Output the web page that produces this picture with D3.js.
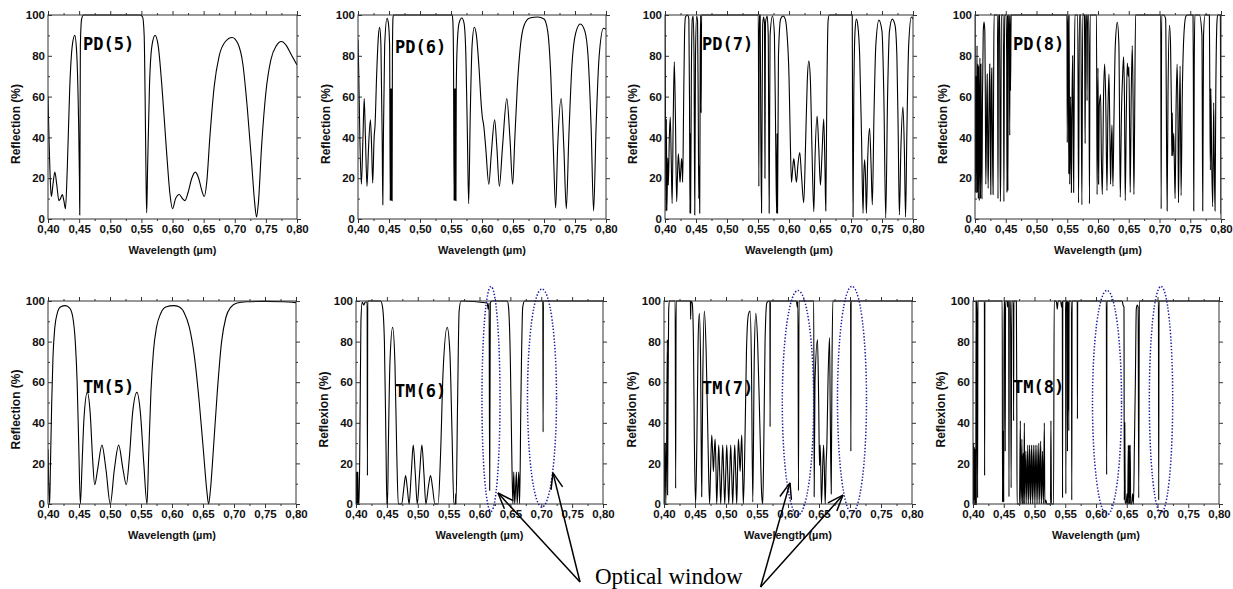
<!DOCTYPE html>
<html>
<head>
<meta charset="utf-8">
<script src="https://cdn.jsdelivr.net/npm/d3@7"></script>
<style>
  body { margin: 0; background: #fff; }
  svg { display: block; }
</style>
</head>
<body>
<script>
/*
* Reflection spectra of the PD(n) and TM(n) stacks, wavelength in µm, reflection in %.
*/

// PD(5) .. PD(8)
var pd5 = [[0.400,60],[0.402,35],[0.4045,14],[0.4055,11],[0.408,17],[0.411,23],[0.414,17],[0.4175,9],[0.420,10],[0.423,12],[0.4255,9],[0.428,5],[0.431,25],[0.435,65],[0.439,85],[0.443,90],[0.446,82],[0.449,50],[0.4505,20],[0.451,2],[0.4515,40],[0.452,85],[0.454,98],[0.457,100],[0.548,100],[0.552,99],[0.5545,90],[0.556,60],[0.5575,20],[0.5585,3],[0.560,25],[0.563,65],[0.567,85],[0.572,90],[0.577,85],[0.583,65],[0.590,35],[0.596,12],[0.600,5],[0.605,10],[0.611,12],[0.616,10],[0.620,9],[0.625,13],[0.631,20],[0.6366,23],[0.642,20],[0.647,14],[0.651,11],[0.655,18],[0.660,40],[0.667,65],[0.675,80],[0.685,87],[0.6957,89],[0.705,86],[0.713,76],[0.720,55],[0.727,28],[0.732,8],[0.735,1],[0.738,8],[0.743,35],[0.750,62],[0.758,78],[0.767,85],[0.7747,87],[0.783,85],[0.790,81],[0.800,75.5]];

var pd6 = [[0.400,88],[0.401,75],[0.403,40],[0.4054,17],[0.408,40],[0.410,59],[0.412,40],[0.4145,16],[0.417,35],[0.420,48.6],[0.422,35],[0.4237,17.6],[0.426,40],[0.4275,46],[0.430,70],[0.433,90],[0.435,94],[0.437,85],[0.439,40],[0.440,7],[0.441,40],[0.443,85],[0.4468,98.4],[0.449,96],[0.451,85],[0.452,9],[0.4525,64],[0.453,9],[0.4535,64],[0.454,9],[0.4545,64],[0.455,9],[0.4555,80],[0.4565,99],[0.458,100],[0.552,100],[0.553,97],[0.554,80],[0.555,9],[0.5555,64],[0.556,9],[0.5565,64],[0.557,9],[0.5575,64],[0.558,9],[0.5585,64],[0.560,85],[0.563,96],[0.5675,98.5],[0.571,96],[0.574,80],[0.5765,40],[0.5785,7.5],[0.581,50],[0.584,85],[0.5876,94],[0.591,90],[0.595,75],[0.599,55],[0.6005,50],[0.6027,46],[0.606,35],[0.611,17],[0.615,32],[0.6204,48.6],[0.624,35],[0.628,16],[0.633,35],[0.640,59],[0.645,40],[0.6495,17],[0.653,40],[0.657,65],[0.662,85],[0.668,95],[0.677,98.5],[0.690,99],[0.700,98],[0.706,92],[0.711,70],[0.715,35],[0.7188,5.4],[0.722,35],[0.7277,59],[0.732,35],[0.736,5],[0.740,40],[0.745,75],[0.751,91],[0.7586,95.6],[0.766,92],[0.771,80],[0.776,45],[0.780,4],[0.784,45],[0.789,80],[0.796,93.5],[0.800,93]];

var pd7 = [[0.400,100],[0.4008,50],[0.4015,4],[0.4022,49],[0.403,4],[0.4045,30],[0.4054,16.6],[0.407,40],[0.4085,50],[0.410,30],[0.4115,7.6],[0.4133,50],[0.415,77],[0.4168,50],[0.4188,8.5],[0.420,20],[0.4215,32],[0.423,25],[0.4242,18],[0.4255,24],[0.4268,29.6],[0.4278,24],[0.4285,18],[0.430,55],[0.4315,90],[0.433,99],[0.4365,100],[0.4385,98],[0.4395,60],[0.4403,2.8],[0.4408,42],[0.4413,2.8],[0.4425,70],[0.444,98],[0.4455,99.5],[0.4468,80],[0.448,2],[0.4492,80],[0.451,99.5],[0.4525,97],[0.4538,45],[0.4545,10],[0.4553,26],[0.456,2.8],[0.4568,80],[0.4575,100],[0.4583,52],[0.459,100],[0.5505,100],[0.5514,16],[0.552,100],[0.5535,100],[0.5545,45],[0.5557,3],[0.5565,45],[0.5575,95],[0.559,99],[0.5605,96],[0.5612,20],[0.562,96],[0.5648,99.5],[0.5665,90],[0.568,2.8],[0.5695,90],[0.5734,99.5],[0.5765,90],[0.5785,40],[0.580,2.8],[0.5808,42],[0.5815,2.8],[0.583,80],[0.5865,98],[0.5905,99.5],[0.594,98],[0.597,90],[0.600,70],[0.602,40],[0.604,18],[0.606,25],[0.6077,29.6],[0.6095,25],[0.612,18],[0.6145,27],[0.6174,32.6],[0.620,22],[0.6238,8],[0.627,40],[0.6295,68],[0.632,77.4],[0.6345,68],[0.637,35],[0.640,3.6],[0.642,30],[0.6453,50.5],[0.648,35],[0.6507,16.6],[0.653,30],[0.656,49],[0.658,25],[0.6593,4],[0.661,60],[0.663,97],[0.665,100],[0.702,100],[0.7025,50],[0.7033,1],[0.7045,60],[0.7065,92],[0.7087,98],[0.711,95],[0.714,80],[0.717,40],[0.7194,2.8],[0.7205,20],[0.722,29],[0.7235,20],[0.7248,2.8],[0.727,30],[0.730,44.5],[0.7325,25],[0.7344,7],[0.737,50],[0.740,85],[0.745,97.5],[0.750,92],[0.753,60],[0.756,0.5],[0.759,60],[0.762,92],[0.7666,98],[0.771,95],[0.774,80],[0.776,45],[0.778,2],[0.7805,35],[0.7838,55],[0.786,35],[0.788,1],[0.790,40],[0.793,85],[0.7973,99],[0.800,98]];

var pd8 = [[0.400,100],[0.4005,40],[0.401,13],[0.4015,70],[0.402,13],[0.4027,50],[0.4033,85],[0.404,13],[0.4047,76],[0.4053,10],[0.406,75],[0.407,9],[0.408,79],[0.409,10],[0.4096,76],[0.4104,45],[0.4112,10],[0.4122,60],[0.4134,92],[0.4147,96.5],[0.416,92],[0.4168,60],[0.4176,17],[0.4187,46],[0.4198,71],[0.4206,40],[0.4214,15],[0.4226,50],[0.424,76],[0.4248,40],[0.4257,12],[0.4265,62],[0.4273,74],[0.4283,40],[0.4294,12],[0.4302,60],[0.431,100],[0.4365,100],[0.4374,10],[0.4382,100],[0.4398,100],[0.4405,59],[0.4412,8.5],[0.442,28],[0.4428,100],[0.446,100],[0.447,8.5],[0.448,100],[0.4505,100],[0.4515,80],[0.452,13],[0.4528,100],[0.4535,14],[0.4543,100],[0.4555,100],[0.4565,41],[0.457,100],[0.4578,63],[0.4588,100],[0.5495,100],[0.550,37.5],[0.5507,100],[0.5515,100],[0.5525,22],[0.553,100],[0.554,17],[0.5555,60],[0.5567,13],[0.5578,60],[0.5588,80],[0.5596,50],[0.5604,13],[0.5615,70],[0.5625,100],[0.567,100],[0.5684,8],[0.5698,100],[0.572,100],[0.5738,7],[0.5752,100],[0.578,100],[0.5787,59],[0.5791,37],[0.5798,100],[0.5815,100],[0.5822,58],[0.583,100],[0.585,100],[0.5861,7.5],[0.5872,100],[0.5975,100],[0.5985,12],[0.600,74],[0.601,17],[0.602,55],[0.6043,61],[0.6055,30],[0.607,12],[0.609,60],[0.6108,76],[0.6125,60],[0.6146,14],[0.616,50],[0.6178,71],[0.619,50],[0.6205,17],[0.6215,35],[0.6227,46],[0.6235,30],[0.6243,16],[0.626,50],[0.6281,85],[0.6314,96.4],[0.634,85],[0.6362,10.7],[0.6372,30],[0.6378,45],[0.640,70],[0.6416,79.5],[0.643,60],[0.6443,9],[0.646,50],[0.6476,76.5],[0.6492,70],[0.6503,74.6],[0.6515,40],[0.6524,13],[0.654,60],[0.6557,85],[0.657,60],[0.6584,12],[0.6595,46],[0.6611,100],[0.702,100],[0.7027,5],[0.7035,100],[0.707,100],[0.710,98],[0.7124,4],[0.7138,60],[0.7162,95],[0.718,85],[0.7195,52],[0.720,31],[0.7208,52],[0.7216,31],[0.7232,42],[0.7243,25],[0.7254,10],[0.727,55],[0.7286,76],[0.730,50],[0.7308,8],[0.732,40],[0.7335,75],[0.7351,11.5],[0.737,60],[0.740,92],[0.743,99.5],[0.746,100],[0.7545,100],[0.755,74],[0.7557,4],[0.7565,74],[0.7575,100],[0.765,100],[0.769,90],[0.7703,4],[0.7716,90],[0.774,100],[0.7811,100],[0.7818,64],[0.7827,24],[0.7835,64],[0.7848,30],[0.7865,6],[0.7881,57],[0.789,30],[0.7903,4],[0.7915,60],[0.7935,97],[0.7946,100],[0.799,100],[0.800,2.5]];

// TM(5) .. TM(8)
var tm5 = [[0.400,27],[0.401,12],[0.4027,0],[0.404,20],[0.406,50],[0.408,72],[0.411,87],[0.415,94],[0.420,97],[0.428,97.7],[0.435,96.5],[0.440,92],[0.444,80],[0.447,60],[0.4495,30],[0.4522,0],[0.455,20],[0.458,42],[0.4634,55],[0.468,45],[0.472,22],[0.4753,9.5],[0.480,17],[0.487,29],[0.4935,17],[0.5005,0],[0.507,17],[0.514,29],[0.521,17],[0.5263,9.5],[0.531,22],[0.5365,45],[0.5435,55],[0.549,45],[0.5545,20],[0.5597,0],[0.5625,25],[0.566,55],[0.570,75],[0.575,87],[0.582,94],[0.590,97],[0.6027,97.7],[0.612,97],[0.620,94],[0.628,87],[0.636,73],[0.644,50],[0.651,25],[0.656,7],[0.659,0],[0.662,7],[0.667,28],[0.673,55],[0.680,80],[0.687,92],[0.695,97],[0.705,99],[0.720,99.6],[0.750,99.8],[0.780,99.6],[0.800,99.2]];

var tm6 = [[0.400,0],[0.4005,15.8],[0.401,0],[0.402,15.8],[0.4025,0],[0.403,15.8],[0.404,0],[0.405,0],[0.4065,40],[0.408,90],[0.410,99.5],[0.4125,98],[0.415,99.5],[0.418,99.5],[0.4185,14],[0.419,100],[0.440,100],[0.443,97],[0.446,80],[0.4485,30],[0.450,0],[0.4505,5],[0.451,0],[0.4525,30],[0.455,70],[0.4593,87],[0.463,70],[0.466,25],[0.4685,0],[0.474,0],[0.4775,8],[0.4803,14],[0.483,8],[0.486,0],[0.4895,15],[0.4927,29],[0.496,15],[0.4992,0],[0.503,15],[0.5067,29],[0.510,15],[0.5132,0],[0.517,8],[0.5207,14],[0.524,8],[0.5278,0],[0.533,0],[0.537,25],[0.541,65],[0.5477,87],[0.552,75],[0.5555,35],[0.5585,0],[0.561,0],[0.5615,5],[0.562,0],[0.5645,50],[0.567,95],[0.570,100],[0.6125,99],[0.614,96],[0.6155,99],[0.6165,6.7],[0.6175,99],[0.620,100],[0.645,100],[0.647,97],[0.650,70],[0.652,30],[0.654,0],[0.6555,15.8],[0.657,0],[0.6598,15.8],[0.661,0],[0.6636,15.8],[0.665,0],[0.667,50],[0.670,97],[0.673,100],[0.7025,100],[0.703,35.5],[0.7035,100],[0.800,100]];

var tm7 = [[0.400,28],[0.4005,0],[0.401,30],[0.4016,19],[0.4022,30],[0.4028,0],[0.404,20],[0.4054,81],[0.4058,4.4],[0.4065,50],[0.4075,95],[0.4086,100],[0.418,100],[0.4188,7.7],[0.4196,100],[0.4425,100],[0.443,91],[0.4435,100],[0.4455,99],[0.4475,80],[0.449,30],[0.451,0],[0.453,30],[0.455,80],[0.457,94],[0.459,70],[0.4608,3.6],[0.4625,60],[0.4651,95],[0.468,75],[0.471,30],[0.4735,0],[0.475,15],[0.477,34],[0.4785,25],[0.4797,16],[0.481,25],[0.4824,32],[0.4838,18],[0.485,0],[0.4867,15],[0.4883,29],[0.4899,15],[0.4915,0],[0.4931,15],[0.4947,29],[0.4963,15],[0.498,0],[0.4996,15],[0.5012,29],[0.5028,15],[0.5044,0],[0.506,15],[0.5076,29],[0.5092,15],[0.5108,0],[0.5124,15],[0.5141,29],[0.5157,15],[0.5173,0],[0.5187,18],[0.520,32],[0.5214,25],[0.5227,16],[0.524,25],[0.5254,34],[0.5268,15],[0.528,0],[0.5305,30],[0.533,75],[0.536,93],[0.5389,95],[0.541,70],[0.5432,1],[0.5455,70],[0.548,94],[0.551,80],[0.5545,40],[0.5575,5],[0.5593,0],[0.561,30],[0.563,80],[0.5658,99],[0.569,100],[0.5708,100],[0.5711,38],[0.5716,100],[0.6135,100],[0.615,97],[0.616,100],[0.6169,6.6],[0.6178,100],[0.6415,100],[0.6422,3.6],[0.6435,60],[0.6476,81],[0.6495,50],[0.6508,19],[0.6518,29],[0.6528,19],[0.654,0],[0.6573,29],[0.6585,19],[0.660,0],[0.6615,20],[0.6627,29],[0.6645,60],[0.667,82],[0.668,50],[0.6697,5],[0.671,70],[0.6723,100],[0.701,100],[0.7014,26],[0.7018,100],[0.800,100]];

var tm8 = [[0.400,29],[0.4005,0],[0.401,30],[0.4016,2],[0.4022,28],[0.4028,0],[0.4033,27],[0.4038,0],[0.4045,5],[0.405,100],[0.4054,0],[0.406,100],[0.4068,100],[0.4075,3],[0.408,100],[0.4185,100],[0.4189,14],[0.4193,100],[0.4475,100],[0.448,1],[0.4485,36],[0.449,1],[0.4495,36],[0.450,1],[0.4505,100],[0.4515,100],[0.452,86],[0.4524,26],[0.453,100],[0.4555,100],[0.4562,97],[0.457,100],[0.458,100],[0.4585,3.6],[0.459,100],[0.461,100],[0.462,8],[0.463,100],[0.4655,100],[0.466,41],[0.4665,100],[0.4705,100],[0.4712,50],[0.4717,0],[0.4755,0],[0.477,41],[0.4776,0],[0.4782,3],[0.4795,32],[0.4803,0],[0.481,20],[0.4818,25],[0.4825,0],[0.4835,40],[0.4843,0],[0.486,26],[0.4875,0],[0.489,29],[0.4905,0],[0.492,29],[0.4935,0],[0.495,29],[0.4965,0],[0.498,29],[0.4995,0],[0.501,29],[0.5025,0],[0.504,29],[0.5055,0],[0.507,30],[0.5085,0],[0.510,31],[0.5115,0],[0.513,26],[0.5145,0],[0.516,40],[0.5168,0],[0.5185,2],[0.520,0],[0.526,0],[0.5267,41],[0.5275,0],[0.531,0],[0.532,100],[0.5348,100],[0.536,99],[0.537,96],[0.5385,100],[0.5425,100],[0.544,97],[0.5452,100],[0.5456,3],[0.546,100],[0.5505,100],[0.551,5],[0.5515,100],[0.5532,100],[0.5536,26],[0.554,100],[0.5545,46],[0.555,100],[0.5558,36],[0.5563,100],[0.560,100],[0.5606,2],[0.5612,100],[0.5695,100],[0.5698,42],[0.5702,100],[0.6168,100],[0.6173,14.5],[0.6178,100],[0.6425,100],[0.644,98],[0.6455,97],[0.646,2],[0.6468,40],[0.6475,1],[0.649,0],[0.6505,5],[0.6515,0],[0.6525,29],[0.6532,0],[0.654,29],[0.6548,0],[0.6556,29],[0.6564,0],[0.658,0],[0.6595,5],[0.661,0],[0.6625,30],[0.664,60],[0.6655,96],[0.667,98],[0.6685,97],[0.6695,3],[0.6705,100],[0.7015,100],[0.702,2],[0.7025,100],[0.800,100]];

var panelData = [pd5, pd6, pd7, pd8, tm5, tm6, tm7, tm8];
var panelNames = ["PD(5)", "PD(6)", "PD(7)", "PD(8)", "TM(5)", "TM(6)", "TM(7)", "TM(8)"];
var yTitles = ["Reflection (%)", "Reflection (%)", "Reflection (%)", "Reflection (%)",
               "Reflection (%)", "Reflexion (%)", "Reflexion (%)", "Reflexion (%)"];
var xTitle = "Wavelength (\u00b5m)";

// axis ticks
var xTicks = [0.40, 0.45, 0.50, 0.55, 0.60, 0.65, 0.70, 0.75, 0.80];
var xMinor = [0.425, 0.475, 0.525, 0.575, 0.625, 0.675, 0.725, 0.775];
var yTicks = [0, 20, 40, 60, 80, 100];
var yMinor = [10, 30, 50, 70, 90];

// optical windows marked on the TM panels: panel, centre (µm, %), half-width (µm), half-height (%)
var windows = [
	{panel: 5, wl: 0.6186, r: 51.7, dw: 0.0146, dr: 55.4},
	{panel: 5, wl: 0.7012, r: 52.2, dw: 0.0235, dr: 53.7},
	{panel: 6, wl: 0.6161, r: 49.9, dw: 0.0253, dr: 55.3},
	{panel: 6, wl: 0.7032, r: 51.4, dw: 0.0234, dr: 55.8},
	{panel: 7, wl: 0.6179, r: 49.9, dw: 0.0236, dr: 55.3},
	{panel: 7, wl: 0.7057, r: 51.4, dw: 0.0190, dr: 55.8}
];
var windowLabel = "Optical window";

// where the arrows point: panel, wavelength, reflection, which tail
var arrowTips = [
	{panel: 5, wl: 0.630, r: 5.4, tail: 0},
	{panel: 5, wl: 0.719, r: 15.3, tail: 0},
	{panel: 6, wl: 0.6032, r: 10.4, tail: 1},
	{panel: 6, wl: 0.6887, r: 4.4, tail: 1}
];

// layout of the eight plot areas
var layout = [
	{left: 48,  top: 15,  width: 249, height: 204, nx: 35, ny: 35},
	{left: 358, top: 15,  width: 248, height: 204, nx: 37, ny: 38},
	{left: 665, top: 15,  width: 248, height: 204, nx: 37, ny: 35},
	{left: 975, top: 15,  width: 246, height: 204, nx: 38, ny: 35},
	{left: 48,  top: 301, width: 248, height: 203, nx: 35, ny: 92},
	{left: 356, top: 301, width: 247, height: 203, nx: 39, ny: 96},
	{left: 664, top: 301, width: 248, height: 203, nx: 38, ny: 93},
	{left: 973, top: 301, width: 246, height: 203, nx: 40, ny: 92}
];

var sans = "'Liberation Sans', Arial, sans-serif";
var scales = [];

var svg = d3.select("body")
	.append("svg")
	.attr("width", 1233)
	.attr("height", 589);

/*
* Draws one panel: frame, ticks, curve, name and axis titles.
*/
function drawPanel(data, i) {
	var box = layout[i];
	var w = box.width, h = box.height;

	var x = d3.scaleLinear().domain([0.40, 0.80]).range([0, w]);
	var y = d3.scaleLinear().domain([0, 100]).range([h, 0]);
	scales.push({x: x, y: y, box: box});

	var g = svg.append("g")
		.attr("transform", "translate(" + box.left + "," + box.top + ")");

	var fmt = function(d) { return d3.format(".2f")(d).replace(".", ","); };

	// bottom axis with labels, outward ticks
	g.append("g")
		.attr("transform", "translate(0," + h + ")")
		.call(d3.axisBottom(x).tickValues(xTicks).tickSize(4).tickPadding(2).tickFormat(fmt));
	g.append("g")
		.attr("transform", "translate(0," + h + ")")
		.call(d3.axisBottom(x).tickValues(xMinor).tickSize(2).tickFormat(""));

	// top axis, ticks only
	g.append("g").call(d3.axisTop(x).tickValues(xTicks).tickSize(4).tickFormat(""));
	g.append("g").call(d3.axisTop(x).tickValues(xMinor).tickSize(2).tickFormat(""));

	// left axis with labels, inward ticks
	g.append("g")
		.call(d3.axisLeft(y).tickValues(yTicks).tickSize(-4).tickPadding(3));
	g.append("g")
		.call(d3.axisLeft(y).tickValues(yMinor).tickSize(-2).tickFormat(""));

	// right axis, ticks only
	g.append("g").attr("transform", "translate(" + w + ",0)")
		.call(d3.axisRight(y).tickValues(yTicks).tickSize(4).tickFormat(""));
	g.append("g").attr("transform", "translate(" + w + ",0)")
		.call(d3.axisRight(y).tickValues(yMinor).tickSize(2).tickFormat(""));

	g.selectAll(".domain").remove();
	g.selectAll(".tick line").attr("stroke", "#333");
	g.selectAll(".tick text")
		.attr("fill", "#111")
		.style("font-family", sans)
		.style("font-weight", "bold")
		.style("font-size", "11.5px");

	// clip the curve to the plot area
	g.append("clipPath").attr("id", "clip" + i)
		.append("rect").attr("x", 0).attr("y", -1).attr("width", w).attr("height", h + 2);

	var line = d3.line()
		.x(function(d) { return x(d[0]); })
		.y(function(d) { return y(d[1]); })
		.curve(d3.curveMonotoneX);

	g.append("path")
		.datum(data)
		.attr("clip-path", "url(#clip" + i + ")")
		.attr("d", line)
		.attr("fill", "none")
		.attr("stroke", "#000")
		.attr("stroke-width", 1.1);

	// frame
	g.append("rect")
		.attr("width", w)
		.attr("height", h)
		.attr("fill", "none")
		.attr("stroke", "#333")
		.attr("stroke-width", 1);

	// panel name
	g.append("text")
		.attr("x", box.nx)
		.attr("y", box.ny)
		.text(panelNames[i])
		.style("font-family", "'DejaVu Sans Mono', 'Liberation Mono', monospace")
		.style("font-weight", "bold")
		.style("font-size", "17px")
		.attr("fill", "#000");

	// axis titles
	g.append("text")
		.attr("x", w / 2)
		.attr("y", h + 35)
		.text(xTitle)
		.style("text-anchor", "middle")
		.style("font-family", sans)
		.style("font-weight", "bold")
		.style("font-size", "11px")
		.attr("fill", "#111");

	g.append("text")
		.attr("transform", "rotate(-90)")
		.attr("x", -(h / 2 + 7))
		.attr("y", -32)
		.attr("dy", "0.35em")
		.text(yTitles[i])
		.style("text-anchor", "middle")
		.style("font-family", sans)
		.style("font-weight", "bold")
		.style("font-size", "12px")
		.attr("fill", "#111");
}

panelData.forEach(drawPanel);

// dotted ellipses around the optical windows
windows.forEach(function(d) {
	var s = scales[d.panel];
	svg.append("ellipse")
		.attr("cx", s.box.left + s.x(d.wl))
		.attr("cy", s.box.top + s.y(d.r))
		.attr("rx", s.x(d.wl + d.dw) - s.x(d.wl))
		.attr("ry", s.y(d.r - d.dr) - s.y(d.r))
		.attr("fill", "none")
		.attr("stroke", "#1c1c9e")
		.attr("stroke-width", 1.5)
		.attr("stroke-dasharray", "1.4,1.8");
});

// label under the bottom row
var label = svg.append("text")
	.attr("x", 595)
	.attr("y", 584)
	.text(windowLabel)
	.style("font-family", "'Liberation Serif', 'Times New Roman', serif")
	.style("font-size", "23px")
	.attr("fill", "#000");

var labelEnd = 595 + label.node().getComputedTextLength();
var tails = [[580, 582], [labelEnd + 18, 587]];

// arrows from the label to the windows
arrowTips.forEach(function(d) {
	var s = scales[d.panel];
	var tx = s.box.left + s.x(d.wl);
	var ty = s.box.top + s.y(d.r);
	var t = tails[d.tail];

	svg.append("line")
		.attr("x1", t[0]).attr("y1", t[1])
		.attr("x2", tx).attr("y2", ty)
		.attr("stroke", "#000")
		.attr("stroke-width", 1.5);

	// open arrow head
	var ang = Math.atan2(t[1] - ty, t[0] - tx);
	[-0.36, 0.36].forEach(function(a) {
		svg.append("line")
			.attr("x1", tx).attr("y1", ty)
			.attr("x2", tx + 17 * Math.cos(ang + a))
			.attr("y2", ty + 17 * Math.sin(ang + a))
			.attr("stroke", "#000")
			.attr("stroke-width", 1.5);
	});
});
</script>
</body>
</html>
